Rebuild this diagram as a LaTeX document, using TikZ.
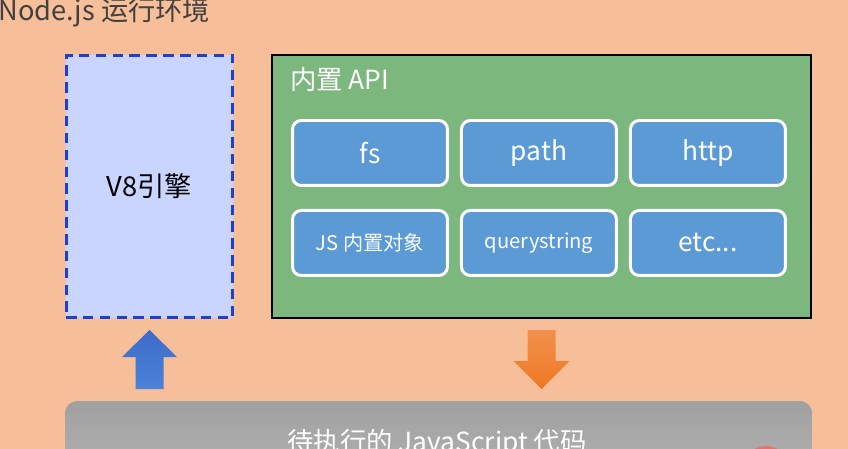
\documentclass[tikz,border=0pt]{standalone}
\usepackage{fontspec}
\setmainfont{Noto Sans CJK SC}
\usetikzlibrary{positioning}
\definecolor{bgpeach}{HTML}{F7BF99}
\definecolor{titlegray}{HTML}{404040}
\definecolor{v8fill}{HTML}{C9D5FE}
\definecolor{v8line}{HTML}{1F3FD0}
\definecolor{apigreen}{HTML}{7CB77E}
\definecolor{modblue}{HTML}{5B9AD5}
\definecolor{codegray}{HTML}{A9A9A9}
\definecolor{upblue}{HTML}{3C6CC8}
\definecolor{upblueb}{HTML}{4C82D8}
\definecolor{downorange}{HTML}{F2914C}
\definecolor{downorangeb}{HTML}{EE7822}
\definecolor{dotred}{HTML}{E5736F}
\tikzset{
  module/.style={draw=white, line width=1.7pt, fill=modblue, rounded corners=5pt,
    minimum width=3.1cm, minimum height=1.3cm, text=white,
    font=\fontsize{15}{18}\selectfont},
  smallmodule/.style={module, font=\fontsize{11.5}{14}\selectfont},
}
\begin{document}
\begin{tikzpicture}[x=0.02cm, y=-0.02cm]
  \clip (0,0) rectangle (848,449);
  \fill[bgpeach] (0,0) rectangle (848,449);
  \node[anchor=base west, text=titlegray, inner sep=0pt,
    font=\fontsize{15.5}{18}\selectfont] (title) at (-2,21) {Node.js 运行环境};
  % engine
  \node[draw=v8line, line width=1.7pt, dash pattern=on 6pt off 3.6pt, fill=v8fill,
    minimum width=3.34cm, minimum height=5.26cm, font=\fontsize{15.5}{18}\selectfont]
    (v8) at (149.5,186.5) {V8引擎};
  % built-in api
  \node[draw=black, line width=1.1pt, fill=apigreen, minimum width=10.78cm,
    minimum height=5.26cm] (api) at (541.5,186.5) {};
  \node[anchor=west, text=white, inner sep=0pt, font=\fontsize{15}{18}\selectfont]
    (apilabel) at (290,80) {内置 API};
  \node[module] (fs) at (370,153) {fs};
  \node[module, right=0.22cm of fs] (path) {path};
  \node[module, right=0.22cm of path] (http) {http};
  \node[smallmodule, below=0.44cm of fs] (jsobj) {JS 内置对象};
  \node[smallmodule, below=0.44cm of path] (qs) {querystring};
  \node[module, below=0.44cm of http] (etc) {etc...};
  % code to run
  \node[fill=codegray, rounded corners=7pt, minimum width=14.94cm, minimum height=2cm,
    top color=codegray!95!black, bottom color=codegray!85!white] (code) at (438.5,451) {};
  \node[text=white, font=\fontsize{15}{18}\selectfont] (codelabel) at (437,443)
    {待执行的 JavaScript 代码};
  \fill[dotred] (766,470) circle (24);
  % block arrows
  \coordinate (uptip) at (149.5,330);
  \shade[top color=upblue, bottom color=upblueb] (uptip) -- ++(27.5,27) -- ++(-13.5,0)
    -- ++(0,32) -- ++(-28,0) -- ++(0,-32) -- ++(-13.5,0) -- cycle;
  \coordinate (downtip) at (541.5,389);
  \shade[top color=downorange, bottom color=downorangeb] (downtip) -- ++(28,-28)
    -- ++(-14,0) -- ++(0,-31) -- ++(-28,0) -- ++(0,31) -- ++(-14,0) -- cycle;
\end{tikzpicture}
\end{document}
